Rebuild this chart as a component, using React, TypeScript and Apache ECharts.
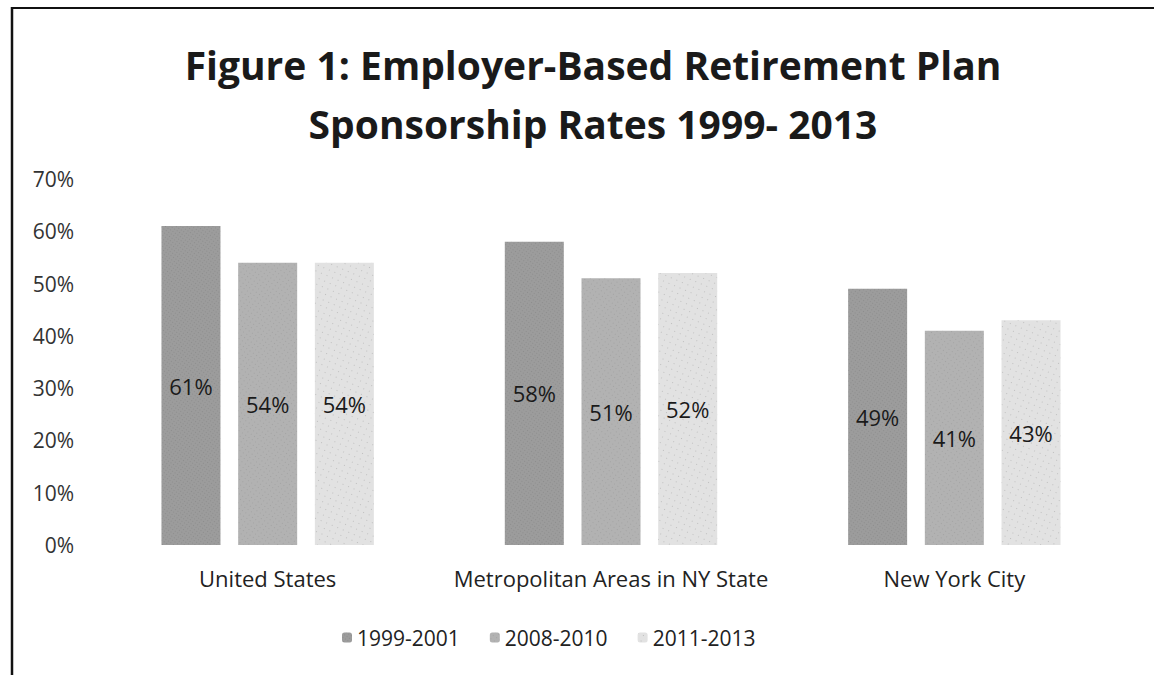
import React, { useEffect, useRef } from "react";
import * as echarts from "echarts";

const categories = ["United States", "Metropolitan Areas in NY State", "New York City"];
const seriesNames = ["1999-2001", "2008-2010", "2011-2013"];
const values1999 = [61, 58, 49];
const values2008 = [54, 51, 41];
const values2011 = [54, 52, 43];
const yTicks = [0, 10, 20, 30, 40, 50, 60, 70];

const FONT = "'Open Sans', 'DejaVu Sans', sans-serif";

export default function App() {
  const ref = useRef<HTMLDivElement>(null);
  useEffect(() => {
    if (!ref.current) return;
    const chart = echarts.init(ref.current, undefined, { renderer: "svg" });
    const colors = ["#9c9c9c", "#b2b2b2", "#e2e2e2"];
    const decals = [
      { symbol: "rect", symbolSize: 0.6, color: "rgba(30,30,30,0.4)", dashArrayX: [1, 2], dashArrayY: [1, 2], rotation: 0.6 },
      { symbol: "rect", symbolSize: 0.6, color: "rgba(30,30,30,0.35)", dashArrayX: [1, 3], dashArrayY: [1, 3], rotation: 0.6 },
      { symbol: "rect", symbolSize: 0.7, color: "rgba(30,30,30,0.5)", dashArrayX: [1, 5], dashArrayY: [1, 5], rotation: 0.4 },
    ];
    const data = [values1999, values2008, values2011];
    chart.setOption({
      animation: false,
      backgroundColor: "#ffffff",
      textStyle: { fontFamily: FONT },
      title: {
        text: "Figure 1: Employer-Based Retirement Plan\nSponsorship Rates 1999- 2013",
        left: 588,
        top: 30,
        textAlign: "center",
        textStyle: {
          fontFamily: FONT,
          fontSize: 39,
          fontWeight: "bold",
          color: "#1a1a1a",
          lineHeight: 59,
        },
      },
      legend: {
        data: seriesNames,
        left: 337,
        top: 622,
        itemWidth: 10,
        itemHeight: 10,
        itemGap: 30,
        textStyle: { fontFamily: FONT, fontSize: 21, color: "#222" },
      },
      grid: { left: 96, right: 28, top: 179, bottom: 130, containLabel: false },
      xAxis: {
        type: "category",
        data: categories,
        axisLine: { show: false },
        axisTick: { show: false },
        axisLabel: { interval: 0, fontFamily: FONT, fontSize: 22, color: "#222", margin: 22 },
      },
      yAxis: {
        type: "value",
        min: yTicks[0],
        max: yTicks[yTicks.length - 1],
        interval: 10,
        splitLine: { show: false },
        axisLine: { show: false },
        axisTick: { show: false },
        axisLabel: {
          fontFamily: FONT,
          fontSize: 21,
          color: "#333",
          margin: 22,
          formatter: (v: number) => `${v}%`,
        },
      },
      series: seriesNames.map((name, i) => ({
        name,
        type: "bar",
        data: data[i],
        barWidth: 59,
        barGap: "30%",
        itemStyle: { color: colors[i], decal: decals[i] },
        label: {
          show: true,
          position: "inside",
          formatter: "{c}%",
          fontFamily: FONT,
          fontSize: 22,
          color: "#1a1a1a",
        },
      })),
      aria: { enabled: false, decal: { show: true } },
      graphic: [
        { type: "line", shape: { x1: 11, y1: 8, x2: 1154, y2: 8 }, style: { stroke: "#111", lineWidth: 2 } },
        { type: "line", shape: { x1: 12, y1: 7, x2: 12, y2: 675 }, style: { stroke: "#111", lineWidth: 2.5 } },
      ],
    });
    return () => chart.dispose();
  }, []);
  return <div ref={ref} style={{ width: 1154, height: 675, position: "absolute", left: 0, top: 0 }} />;
}
